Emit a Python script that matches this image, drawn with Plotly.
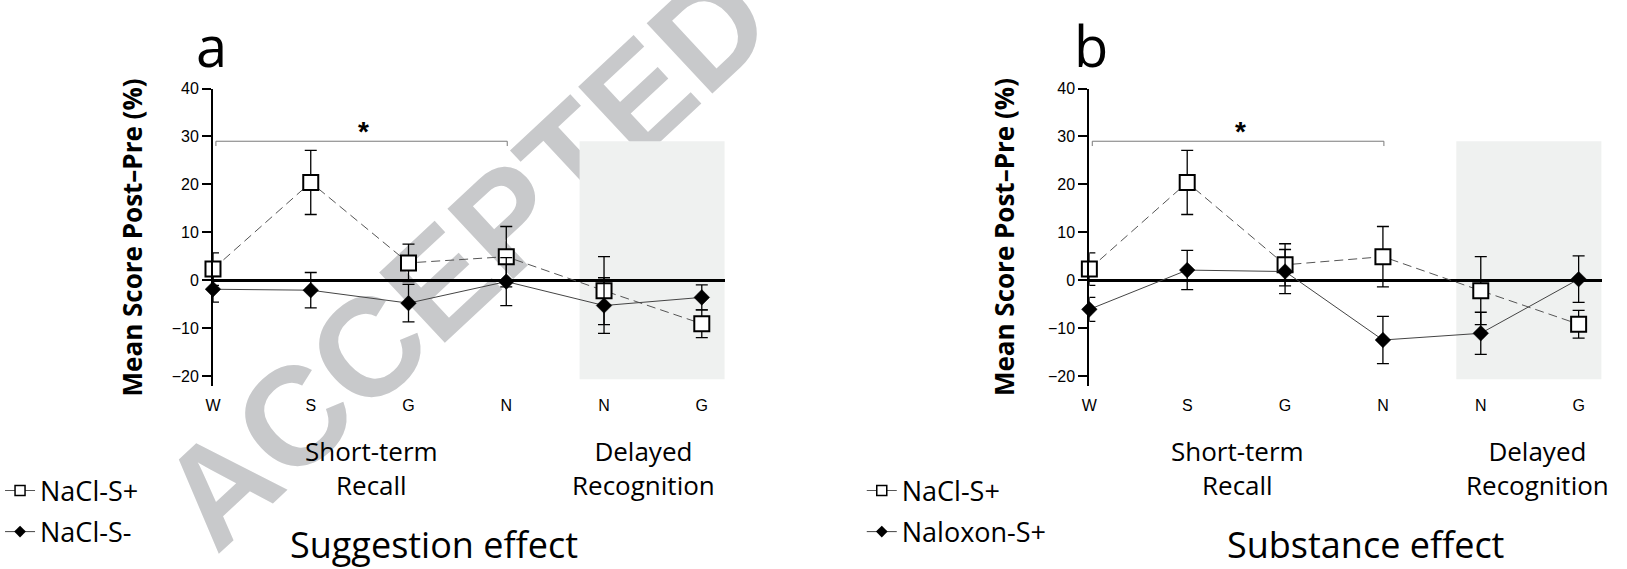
import plotly.graph_objects as go

W, H = 1627, 569
def X(px): return px / W
def Y(py): return 1 - py / H

categories = ["W", "S", "G", "N", "N", "G"]
xpos = [0, 1, 2, 3, 4, 5]
yticks = [-20, -10, 0, 10, 20, 30, 40]

# Panel a: Suggestion effect
a_nacl_sp = [2.3, 20.4, 3.6, 4.9, -2.2, -9.1]
a_nacl_sp_err = [3.4, 6.7, 3.9, 6.3, 7.1, 2.9]
a_nacl_sm = [-1.9, -2.1, -4.8, -0.3, -5.3, -3.6]
a_nacl_sm_err = [2.7, 3.7, 3.9, 5.0, 5.8, 2.6]

# Panel b: Substance effect
b_nacl_sp = [2.3, 20.4, 3.2, 4.9, -2.2, -9.2]
b_nacl_sp_err = [3.4, 6.7, 4.4, 6.3, 7.1, 2.9]
b_nalox_sp = [-6.1, 2.1, 1.8, -12.5, -11.1, 0.2]
b_nalox_sp_err = [2.5, 4.1, 4.6, 4.95, 4.4, 4.85]

panel_letters = ["a", "b"]
panel_titles = ["Suggestion effect", "Substance effect"]
legend_names = [["NaCl-S+", "NaCl-S-"], ["NaCl-S+", "Naloxon-S+"]]
ytitle = "Mean Score Post\u2013Pre (%)"
group_labels = ["Short-term<br>Recall", "Delayed<br>Recognition"]
watermark = "ACCEPTED"

BODY = "Open Sans"
TICKF = "Liberation Sans"

fig = go.Figure()

panels = [
    dict(xa="x", ya="y", sp=a_nacl_sp, spe=a_nacl_sp_err, sm=a_nacl_sm, sme=a_nacl_sm_err, leg="legend"),
    dict(xa="x2", ya="y2", sp=b_nacl_sp, spe=b_nacl_sp_err, sm=b_nalox_sp, sme=b_nalox_sp_err, leg="legend2"),
]

for i, p in enumerate(panels):
    fig.add_trace(go.Scatter(
        x=xpos, y=p["sp"], xaxis=p["xa"], yaxis=p["ya"], mode="lines+markers",
        line=dict(color="#555555", width=1, dash="9px,5px"),
        marker=dict(symbol="square", size=15, color="white", line=dict(color="black", width=2)),
        error_y=dict(type="data", array=p["spe"], visible=True, color="black", thickness=1.3, width=6),
        showlegend=False, cliponaxis=False))
    fig.add_trace(go.Scatter(
        x=xpos, y=p["sm"], xaxis=p["xa"], yaxis=p["ya"], mode="lines+markers",
        line=dict(color="#444444", width=1),
        marker=dict(symbol="diamond", size=12, color="black", line=dict(color="black", width=0.5)),
        error_y=dict(type="data", array=p["sme"], visible=True, color="black", thickness=1.3, width=6),
        showlegend=False, cliponaxis=False))
    fig.add_trace(go.Scatter(
        x=[None], y=[None], xaxis=p["xa"], yaxis=p["ya"], mode="lines+markers",
        name=legend_names[i][0], legend=p["leg"], legendgroup=f"g{i}a",
        line=dict(color="#555555", width=1),
        marker=dict(symbol="square", size=10, color="white", line=dict(color="black", width=1.5))))
    fig.add_trace(go.Scatter(
        x=[None], y=[None], xaxis=p["xa"], yaxis=p["ya"], mode="lines+markers",
        name=legend_names[i][1], legend=p["leg"], legendgroup=f"g{i}b",
        line=dict(color="#444444", width=1),
        marker=dict(symbol="diamond", size=9, color="black")))

xdoms = [[X(206), X(720.3)], [X(1086.7), X(1601.5)]]
ydom = [Y(382.9), Y(81.7)]

axis_common_x = dict(range=[0, 5.235], tickvals=xpos, ticktext=categories, showgrid=False,
                     zeroline=False, showline=False, ticks="", ticklabelstandoff=8,
                     tickfont=dict(family=TICKF, size=16, color="black"), fixedrange=True)
axis_common_y = dict(range=[-22, 40], tickvals=yticks, showgrid=False, zeroline=True,
                     zerolinecolor="black", zerolinewidth=2.5, showline=True, linecolor="black",
                     linewidth=2, ticks="outside", ticklen=9, tickwidth=2, tickcolor="black",
                     tickfont=dict(family=TICKF, size=16, color="black"), fixedrange=True)

fig.update_layout(
    xaxis=dict(domain=xdoms[0], anchor="y", **axis_common_x),
    yaxis=dict(domain=ydom, anchor="x", **axis_common_y),
    xaxis2=dict(domain=xdoms[1], anchor="y2", **axis_common_x),
    yaxis2=dict(domain=ydom, anchor="x2", **axis_common_y),
)

shapes = []
# watermark, drawn beneath the data
shapes.append(dict(type="rect", xref="paper", yref="paper", x0=X(449), x1=X(451), y0=Y(245), y1=Y(243),
                   line=dict(width=0), fillcolor="rgba(0,0,0,0)", layer="below",
                   label=dict(text=watermark, textangle=-43, textposition="middle center",
                              font=dict(family="Liberation Sans", size=140, color="#c8c9cb", weight="bold"))))
for i, p in enumerate(panels):
    xr, yr = p["xa"], p["ya"]
    shapes.append(dict(type="rect", xref=xr, yref=yr, x0=3.75, x1=5.235, y0=-20.7, y1=29,
                       fillcolor="#eff1f0", line=dict(width=0), layer="below"))
    shapes.append(dict(type="path", xref=xr, yref=yr,
                       path="M 0.03 28 L 0.03 29 L 3.01 29 L 3.01 28",
                       line=dict(color="#7a7a7a", width=1)))
fig.update_layout(shapes=shapes)

ann = []
ycenter_px = (81.7 + 382.9) / 2
for i, p in enumerate(panels):
    xr, yr = p["xa"], p["ya"]
    ann.append(dict(x=1.54, y=31, xref=xr, yref=yr, text="<b>*</b>", showarrow=False,
                    xanchor="center", yanchor="middle",
                    font=dict(family="Liberation Sans", size=28, color="black")))
for xc in [125, 1001]:
    ann.append(dict(x=X(xc), y=Y(ycenter_px), xref="paper", yref="paper", text=ytitle,
                    textangle=-90, showarrow=False, xanchor="center", yanchor="middle",
                    font=dict(family=BODY, size=26, color="black", weight="bold")))
for xc, letter in zip([205, 1088], panel_letters):
    ann.append(dict(x=X(xc), y=Y(38), xref="paper", yref="paper", text=letter, showarrow=False,
                    xanchor="center", yanchor="middle",
                    font=dict(family=BODY, size=56, color="black")))
for xc, lbl in [(365, group_labels[0]), (639, group_labels[1]), (1236, group_labels[0]), (1537, group_labels[1])]:
    ann.append(dict(x=X(xc), y=Y(467), xref="paper", yref="paper", text=lbl, showarrow=False,
                    xanchor="center", yanchor="middle",
                    font=dict(family=BODY, size=26, color="black")))
for xc, t in zip([428, 1364], panel_titles):
    ann.append(dict(x=X(xc), y=Y(544), xref="paper", yref="paper", text=t, showarrow=False,
                    xanchor="center", yanchor="middle",
                    font=dict(family=BODY, size=36, color="black")))
fig.update_layout(annotations=ann)

leg_common = dict(xanchor="left", yanchor="top", bgcolor="rgba(0,0,0,0)", borderwidth=0,
                  font=dict(family=BODY, size=27, color="black"), itemwidth=30,
                  traceorder="grouped", tracegroupgap=3)
fig.update_layout(
    legend=dict(x=X(-8), y=Y(465), **leg_common),
    legend2=dict(x=X(858), y=Y(465), **leg_common),
)

fig.update_layout(width=W, height=H, margin=dict(l=0, r=0, t=0, b=0),
                  paper_bgcolor="white", plot_bgcolor="rgba(0,0,0,0)")

fig.write_html("out.html", config={"displayModeBar": False},
               post_script="document.body.style.margin='0';")
